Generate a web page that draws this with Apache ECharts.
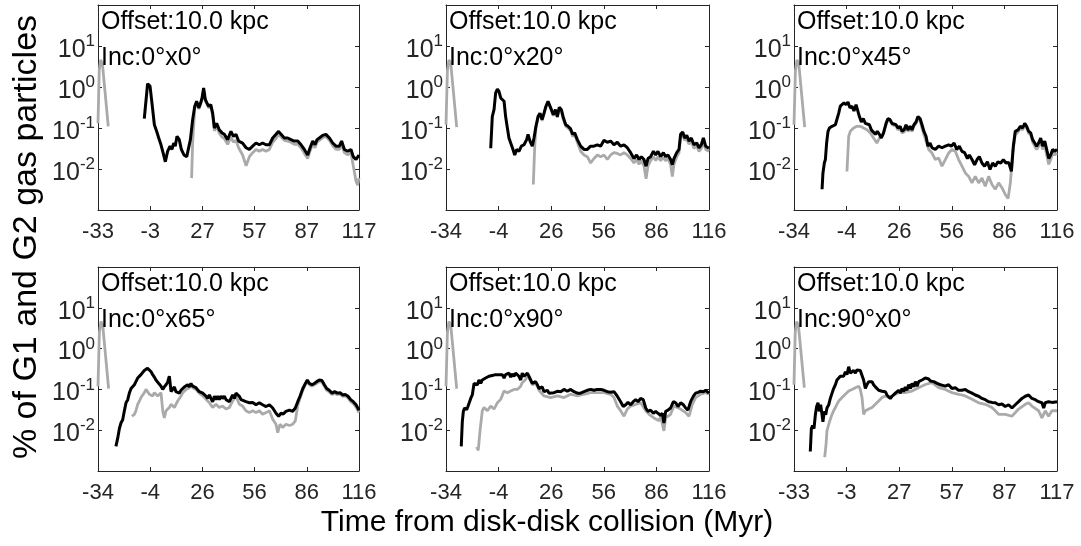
<!DOCTYPE html>
<html><head><meta charset="utf-8">
<script src="https://cdn.jsdelivr.net/npm/echarts@6/dist/echarts.min.js"></script>
<style>html,body{margin:0;padding:0;background:#fff}#c{width:1081px;height:546px}</style>
</head><body><div id="c"></div>
<script>
// ---------------- DATA ----------------
const offsetLabel = 'Offset:10.0 kpc';
const incLabels = ['Inc:0°x0°', 'Inc:0°x20°', 'Inc:0°x45°', 'Inc:0°x65°', 'Inc:0°x90°', 'Inc:90°x0°'];
const xMins = [-33, -34, -34, -34, -34, -33];
const xMaxs = [117, 116, 116, 116, 116, 117];
const xTicks = [
  [-33, -3, 27, 57, 87, 117],
  [-34, -4, 26, 56, 86, 116],
  [-34, -4, 26, 56, 86, 116],
  [-34, -4, 26, 56, 86, 116],
  [-34, -4, 26, 56, 86, 116],
  [-33, -3, 27, 57, 87, 117]
];
const yMin = 0.001, yMax = 100;
const yLabelExps = [-2, -1, 0, 1];
const xTitle = 'Time from disk-disk collision (Myr)';
const yTitle = '% of G1 and G2 gas particles';

// early gray spike (same in every panel, starts at left edge)
const spike33 = [[-33,0.13],[-32.3,2.5],[-31.5,4.6],[-30.5,3.8],[-27.1,0.11]];
const spike34 = [[-34,0.12],[-33.2,2.5],[-32.3,4.6],[-31.3,3.8],[-27.9,0.105]];

const p1Black = [[-6.4,0.17],[-4.5,1.2],[-3.1,1.05],[-2,0.41],[-0.6,0.12],[0.7,0.083],[1.9,0.057],[3.2,0.039],[4.5,0.024],[5.7,0.015],[7,0.027],[8.4,0.036],[9.5,0.03],[10.5,0.043],[11.4,0.036],[12.4,0.063],[13.7,0.052],[14.9,0.03],[16.4,0.022],[18,0.02],[19.1,0.018],[20.1,0.052],[21.4,0.16],[22.6,0.34],[23.7,0.45],[24.9,0.31],[26,0.41],[26.8,0.54],[27.7,0.95],[28.7,0.49],[29.6,0.41],[30.6,0.34],[31.8,0.37],[32.9,0.23],[33.9,0.1],[35.2,0.13],[36.7,0.09],[38.3,0.076],[39.6,0.07],[41.5,0.052],[43.4,0.083],[44.8,0.063],[46.3,0.07],[47.8,0.048],[50.1,0.043],[52.1,0.033],[54,0.03],[55.9,0.036],[57.8,0.043],[59.7,0.039],[61.6,0.043],[63.5,0.039],[65.5,0.039],[67.4,0.057],[69.3,0.07],[70.8,0.083],[72.2,0.07],[74.1,0.057],[76,0.057],[77.9,0.052],[79.8,0.048],[81.8,0.048],[83.7,0.039],[85.6,0.03],[87.5,0.022],[88.9,0.033],[90.4,0.048],[91.7,0.039],[92.9,0.052],[94.2,0.057],[96.1,0.066],[98,0.07],[100,0.057],[101.9,0.043],[103.8,0.036],[105.7,0.036],[107,0.048],[108.6,0.03],[110.5,0.027],[112.4,0.03],[113.7,0.02],[115.3,0.017],[117,0.022]];
const p1Gray = [[20.8,0.006],[21.4,0.045],[22.6,0.3],[23.7,0.42],[24.9,0.29],[26,0.38],[26.8,0.5],[27.7,0.85],[28.7,0.45],[29.6,0.38],[30.6,0.31],[31.8,0.33],[32.9,0.2],[33.9,0.085],[35.2,0.11],[36.7,0.075],[38.3,0.06],[39.6,0.055],[41.5,0.04],[43.4,0.06],[44.8,0.045],[46.3,0.05],[47.8,0.033],[50.1,0.022],[52.1,0.012],[54,0.02],[55.9,0.025],[57.8,0.03],[59.7,0.027],[61.6,0.03],[63.5,0.027],[65.5,0.03],[67.4,0.045],[69.3,0.055],[70.8,0.07],[72.2,0.06],[74.1,0.05],[76,0.048],[77.9,0.045],[79.8,0.04],[81.8,0.04],[83.7,0.033],[85.6,0.024],[87.5,0.018],[88.9,0.028],[90.4,0.04],[91.7,0.033],[92.9,0.045],[94.2,0.05],[96.1,0.058],[98,0.062],[100,0.05],[101.9,0.037],[103.8,0.03],[105.7,0.03],[107,0.04],[108.6,0.025],[110.5,0.022],[112.4,0.025],[113.7,0.012],[115.3,0.005],[116.2,0.004],[117,0.006]];

const p2Black = [[-8.5,0.032],[-7.6,0.19],[-6.6,0.28],[-5.7,0.71],[-4.7,0.89],[-3.8,0.78],[-2.8,0.54],[-1.9,0.49],[-0.9,0.45],[0,0.19],[1,0.1],[1.9,0.057],[2.9,0.043],[4.2,0.03],[5.2,0.022],[6.3,0.03],[7.6,0.027],[9,0.036],[10.5,0.039],[12,0.052],[12.8,0.07],[13.9,0.048],[15.2,0.036],[16.2,0.057],[17.3,0.11],[18.5,0.19],[19.6,0.23],[20.8,0.16],[21.9,0.23],[23,0.34],[24.2,0.45],[25.1,0.49],[26.1,0.28],[27.2,0.21],[28.4,0.28],[29.5,0.19],[30.6,0.32],[31.8,0.28],[32.9,0.18],[34.3,0.12],[35.6,0.11],[37.1,0.095],[38.2,0.07],[39.4,0.076],[40.9,0.052],[42.8,0.036],[44.7,0.03],[46.6,0.03],[48.5,0.036],[50.4,0.036],[52.3,0.039],[54.2,0.036],[56.1,0.05],[58,0.045],[59.9,0.048],[61.8,0.039],[63.7,0.045],[65.6,0.036],[67.5,0.039],[69.4,0.033],[71.3,0.025],[73.2,0.018],[74.7,0.022],[76.1,0.017],[77.4,0.02],[78.9,0.017],[80.1,0.0117],[81.2,0.018],[82.7,0.02],[84.3,0.027],[85.6,0.022],[86.9,0.027],[88.4,0.02],[90,0.025],[91.3,0.02],[92.6,0.022],[94.1,0.017],[95.1,0.0127],[96,0.018],[97.6,0.025],[98.9,0.03],[99.8,0.07],[101,0.08],[102.1,0.057],[103.3,0.066],[104.6,0.048],[105.9,0.057],[107.4,0.039],[109,0.043],[110.3,0.033],[111.6,0.039],[112.8,0.057],[114.1,0.036],[116,0.032]];
const p2Gray = [[15.8,0.0042],[16.6,0.036],[17.3,0.1],[18.5,0.18],[19.6,0.22],[20.8,0.15],[21.9,0.22],[23,0.32],[24.2,0.43],[25.1,0.47],[26.1,0.27],[27.2,0.2],[28.4,0.27],[29.5,0.18],[30.6,0.3],[31.8,0.26],[32.9,0.16],[34.3,0.11],[35.6,0.1],[37.1,0.085],[38.2,0.062],[39.4,0.068],[40.9,0.045],[42.8,0.027],[44.7,0.022],[46.6,0.02],[48.5,0.014],[50.4,0.018],[52.3,0.022],[54.2,0.02],[56.1,0.022],[58,0.017],[59.9,0.022],[61.8,0.025],[63.7,0.024],[65.6,0.022],[67.5,0.025],[69.4,0.022],[71.3,0.018],[73.2,0.014],[74.7,0.017],[76.1,0.013],[77.4,0.016],[78.9,0.012],[80.1,0.0058],[81.2,0.012],[82.7,0.016],[84.3,0.02],[85.6,0.016],[86.9,0.02],[88.4,0.016],[90,0.019],[91.3,0.016],[92.6,0.018],[94.1,0.013],[95.1,0.0065],[96,0.013],[97.6,0.02],[98.9,0.025],[99.8,0.06],[101,0.07],[102.1,0.05],[103.3,0.055],[104.6,0.04],[105.9,0.048],[107.4,0.032],[109,0.036],[110.3,0.027],[111.6,0.032],[112.8,0.045],[114.1,0.03],[116,0.027]];

const p3Black = [[-18,0.0032],[-17.5,0.0079],[-16.7,0.014],[-16.1,0.017],[-15.4,0.043],[-14.6,0.083],[-13.8,0.1],[-13.1,0.09],[-12.3,0.11],[-11.4,0.1],[-10.4,0.12],[-9.5,0.13],[-8.5,0.23],[-7.6,0.34],[-6.6,0.31],[-5.5,0.41],[-4.3,0.37],[-3.2,0.43],[-2.1,0.31],[-0.9,0.34],[0.2,0.26],[1.4,0.37],[2.3,0.41],[3.3,0.19],[4.4,0.14],[5.5,0.17],[6.7,0.13],[7.8,0.13],[9,0.12],[10.1,0.09],[11.2,0.1],[12.4,0.07],[13.5,0.083],[14.7,0.07],[15.8,0.057],[17.1,0.076],[18.5,0.13],[19.6,0.17],[20.8,0.16],[21.9,0.13],[23,0.14],[24.2,0.12],[25.3,0.1],[26.5,0.11],[27.6,0.083],[28.8,0.09],[29.9,0.12],[31,0.09],[32.2,0.11],[33.3,0.09],[34.4,0.12],[35.6,0.14],[36.7,0.19],[37.9,0.17],[39,0.12],[40.1,0.083],[41.3,0.063],[42.4,0.036],[43.6,0.043],[44.7,0.033],[46.6,0.03],[48.5,0.036],[50.4,0.033],[52.3,0.036],[54.2,0.039],[55.7,0.036],[57.3,0.043],[58.8,0.03],[60.3,0.036],[61.8,0.027],[63.3,0.025],[64.9,0.018],[66,0.022],[67.5,0.017],[69,0.0127],[70.4,0.017],[71.7,0.02],[73.2,0.014],[74.7,0.0117],[76.3,0.015],[77.8,0.0097],[79.3,0.014],[80.8,0.0117],[82.3,0.015],[83.9,0.014],[85.4,0.017],[86.9,0.014],[88.4,0.0145],[90,0.0088],[91.1,0.036],[92.2,0.083],[93.8,0.09],[95.1,0.11],[96.4,0.1],[97.6,0.13],[98.7,0.11],[99.8,0.083],[101,0.076],[102.1,0.052],[103.3,0.043],[104.4,0.036],[105.5,0.043],[106.7,0.057],[107.8,0.036],[109,0.048],[110.1,0.03],[111.3,0.018],[112.4,0.022],[113.5,0.03],[114.7,0.027],[116,0.03]];
const p3Gray = [[-3.8,0.0087],[-2.8,0.063],[-1.9,0.083],[0,0.1],[1.9,0.11],[3.8,0.11],[5.7,0.1],[7.6,0.091],[9.5,0.076],[11.4,0.057],[13.3,0.043],[14.7,0.057],[16.2,0.063],[18.5,0.12],[19.6,0.16],[20.8,0.15],[21.9,0.12],[23,0.13],[24.2,0.11],[25.3,0.09],[26.5,0.1],[27.6,0.075],[28.8,0.08],[29.9,0.11],[31,0.082],[32.2,0.1],[33.3,0.082],[34.4,0.11],[35.6,0.13],[36.7,0.17],[37.9,0.15],[39,0.1],[40.1,0.07],[42.8,0.03],[44.7,0.0245],[46.6,0.017],[48.5,0.0185],[50.4,0.0117],[52.3,0.017],[54.2,0.0245],[56.1,0.03],[58,0.027],[59.9,0.017],[61.8,0.0117],[63.7,0.008],[65.6,0.0066],[67.5,0.0046],[69.4,0.0066],[71.3,0.0046],[73.2,0.006],[75.1,0.0038],[77,0.0066],[78.9,0.0042],[80.8,0.0032],[82.7,0.0046],[84.6,0.0035],[86.5,0.0024],[88.1,0.0019],[89.4,0.0046],[90.7,0.0245],[92.2,0.069],[93.8,0.08],[95.1,0.1],[96.4,0.09],[97.6,0.12],[98.7,0.1],[99.8,0.075],[101,0.068],[102.1,0.045],[103.3,0.036],[104.4,0.03],[105.5,0.036],[106.7,0.05],[107.8,0.03],[109,0.04],[110.1,0.022],[111.3,0.013],[112.4,0.017],[113.5,0.025],[114.7,0.022],[116,0.0245]];

const p4Black = [[-23.7,0.004],[-22.7,0.0063],[-21.7,0.011],[-20.8,0.015],[-19.8,0.018],[-18.9,0.029],[-17.9,0.047],[-16.9,0.056],[-16,0.081],[-15,0.105],[-14.1,0.115],[-13.1,0.13],[-12.2,0.155],[-11.2,0.19],[-10.2,0.21],[-9.3,0.23],[-8.3,0.25],[-7.4,0.29],[-6.4,0.32],[-5.5,0.33],[-4.5,0.3],[-3.5,0.27],[-2.6,0.23],[-1.6,0.2],[-0.7,0.17],[0.3,0.155],[1.2,0.135],[2.2,0.12],[3.2,0.1],[4.1,0.115],[5.1,0.13],[6,0.15],[7,0.21],[8,0.088],[8.9,0.088],[9.9,0.115],[10.8,0.088],[11.8,0.095],[12.7,0.081],[13.7,0.095],[14.7,0.105],[15.6,0.115],[16.6,0.11],[17.5,0.13],[18.5,0.115],[19.4,0.14],[20.4,0.12],[21.4,0.13],[22.3,0.11],[23.3,0.1],[24.2,0.088],[25.2,0.095],[26.2,0.081],[27.1,0.088],[28.1,0.068],[29,0.06],[30,0.073],[30.9,0.06],[31.9,0.05],[32.9,0.068],[33.8,0.056],[34.8,0.068],[35.7,0.056],[36.7,0.068],[37.6,0.06],[38.6,0.068],[39.6,0.056],[40.5,0.06],[41.5,0.05],[42.4,0.06],[43.4,0.073],[44.4,0.06],[45.3,0.081],[46.3,0.088],[47.2,0.068],[48.2,0.056],[49.1,0.06],[51,0.05],[53,0.047],[54.9,0.048],[56.8,0.042],[58.7,0.047],[60.6,0.042],[62.6,0.038],[64.5,0.042],[66.4,0.035],[68.3,0.026],[69.8,0.022],[71.2,0.026],[72.5,0.025],[74,0.029],[76,0.031],[77.9,0.029],[79.4,0.035],[80.8,0.05],[82.1,0.068],[83.7,0.105],[85.2,0.14],[86.3,0.17],[87.5,0.14],[89,0.13],[90.3,0.14],[91.7,0.155],[93.2,0.17],[94.7,0.165],[96.1,0.13],[97.4,0.105],[98.9,0.095],[100.5,0.081],[102,0.088],[103.5,0.081],[105.1,0.083],[106.6,0.073],[108.1,0.075],[109.7,0.068],[111.2,0.056],[112.7,0.05],[114.3,0.042],[116,0.031]];
const p4Gray = [[-14.5,0.022],[-13.1,0.0245],[-12.2,0.03],[-11.2,0.043],[-10.2,0.052],[-9.3,0.063],[-8.3,0.069],[-7.4,0.083],[-6.4,0.1],[-5.5,0.091],[-4.5,0.076],[-3.5,0.083],[-2.6,0.069],[-1.6,0.083],[-0.7,0.091],[0.3,0.069],[1.2,0.063],[2.2,0.083],[3.2,0.03],[4.1,0.02],[5.1,0.03],[6,0.027],[7,0.036],[8,0.043],[8.9,0.039],[9.9,0.036],[10.8,0.039],[11.8,0.052],[12.7,0.052],[13.7,0.069],[14.7,0.083],[15.6,0.091],[16.6,0.1],[17.5,0.11],[18.5,0.11],[19.4,0.13],[20.4,0.11],[21.4,0.12],[22.3,0.1],[23.3,0.09],[24.2,0.08],[25.2,0.085],[26.2,0.07],[28.1,0.057],[30,0.047],[31.9,0.036],[33.8,0.043],[35.7,0.036],[37.6,0.039],[39.6,0.033],[41.5,0.036],[43.4,0.052],[45.3,0.069],[47.2,0.043],[49.1,0.039],[51,0.03],[53,0.027],[54.9,0.03],[56.8,0.027],[58.7,0.03],[60.6,0.0245],[62.6,0.027],[64.5,0.03],[66.4,0.0185],[68.3,0.014],[69.3,0.0087],[70.6,0.014],[72.1,0.0117],[74,0.014],[76,0.013],[77.9,0.014],[79.4,0.017],[80.8,0.04],[82.1,0.06],[83.7,0.095],[85.2,0.13],[86.3,0.155],[87.5,0.13],[89,0.12],[90.3,0.13],[91.7,0.14],[93.2,0.155],[94.7,0.15],[96.1,0.12],[97.4,0.095],[98.9,0.087],[100.5,0.075],[102,0.08],[103.5,0.075],[105.1,0.077],[106.6,0.067],[108.1,0.069],[109.7,0.062],[111.2,0.05],[112.7,0.045],[114.3,0.037],[116,0.027]];

const p5Black = [[-25.3,0.004],[-24.7,0.016],[-24.1,0.029],[-23.4,0.035],[-22.2,0.032],[-21.5,0.038],[-20.7,0.042],[-19.9,0.06],[-19,0.073],[-18,0.14],[-17.1,0.155],[-16.1,0.13],[-15.2,0.17],[-14.2,0.14],[-13.3,0.17],[-12.3,0.155],[-11.4,0.19],[-10.4,0.17],[-9.5,0.21],[-8.5,0.19],[-7.6,0.22],[-6.6,0.24],[-5.7,0.23],[-4.7,0.25],[-3.8,0.23],[-2.8,0.21],[-1.9,0.23],[-0.9,0.19],[0,0.23],[1,0.21],[1.9,0.25],[2.9,0.2],[3.8,0.24],[4.8,0.21],[5.7,0.25],[6.7,0.27],[7.6,0.21],[8.6,0.17],[9.5,0.25],[10.5,0.21],[11.4,0.23],[12.4,0.25],[13.3,0.21],[14.3,0.17],[15.2,0.14],[16.2,0.13],[17.1,0.155],[18.1,0.13],[19,0.105],[20,0.095],[20.9,0.115],[21.9,0.088],[22.8,0.081],[23.8,0.095],[24.7,0.081],[25.7,0.09],[27.6,0.083],[29.5,0.09],[31.4,0.088],[33.3,0.1],[35.2,0.09],[37.1,0.1],[39,0.088],[40.9,0.081],[42.8,0.081],[44.7,0.088],[46.6,0.095],[48.5,0.1],[50.4,0.095],[52.3,0.1],[54.2,0.1],[56.1,0.095],[58,0.088],[59.9,0.085],[61.8,0.088],[63.7,0.068],[65.6,0.05],[67.1,0.038],[68.5,0.042],[69.8,0.048],[71.3,0.042],[72.8,0.05],[74.2,0.056],[75.5,0.05],[77,0.06],[78.5,0.056],[79.9,0.035],[81.2,0.029],[82.7,0.031],[84.3,0.026],[85.6,0.029],[86.9,0.026],[88.4,0.023],[89.4,0.026],[90.3,0.015],[91.3,0.029],[92.6,0.031],[94.1,0.035],[95.7,0.05],[97,0.047],[98.3,0.038],[99.8,0.047],[101.4,0.042],[102.7,0.035],[104,0.031],[105.5,0.05],[107.1,0.068],[108.4,0.081],[109.7,0.085],[111.2,0.09],[112.8,0.088],[114.1,0.095],[116,0.081]];
const p5Gray = [[-16.5,0.0039],[-15.6,0.0032],[-14.6,0.0096],[-13.3,0.03],[-12.3,0.036],[-10.4,0.03],[-8.5,0.039],[-7.6,0.043],[-6.6,0.033],[-5.7,0.039],[-4.7,0.047],[-2.8,0.057],[-1.9,0.063],[-0.9,0.091],[1,0.083],[2.9,0.091],[4.8,0.1],[6.7,0.1],[8.6,0.12],[9.5,0.146],[10.5,0.16],[11.4,0.175],[12.4,0.22],[13.3,0.2],[14.3,0.16],[15.2,0.13],[16.2,0.12],[17.1,0.14],[18.1,0.12],[19,0.095],[20,0.085],[21.9,0.069],[25.7,0.063],[29.5,0.069],[33.3,0.063],[37.1,0.076],[40.9,0.069],[44.7,0.076],[48.5,0.083],[52.3,0.083],[56.1,0.083],[59.9,0.076],[61.8,0.063],[63.7,0.039],[65.6,0.03],[67.5,0.022],[69.4,0.033],[71.3,0.039],[74.2,0.043],[77,0.047],[79.9,0.03],[81.8,0.0245],[84.6,0.02],[87.5,0.017],[88.4,0.022],[90.3,0.0096],[91.3,0.02],[94.1,0.0245],[96,0.039],[99.8,0.033],[102.7,0.027],[104.6,0.022],[106.5,0.043],[108.4,0.063],[111.2,0.076],[114.1,0.083],[116,0.076]];

const p6Black = [[-23.7,0.003],[-23.1,0.011],[-22.4,0.013],[-21.6,0.011],[-20.8,0.024],[-20.1,0.038],[-19.3,0.047],[-18.6,0.029],[-17.8,0.042],[-17,0.024],[-16.5,0.016],[-15.7,0.029],[-14.9,0.024],[-14.2,0.035],[-13.2,0.042],[-12.3,0.06],[-11.3,0.081],[-10.4,0.105],[-9.4,0.13],[-8.5,0.17],[-7.5,0.17],[-6.6,0.21],[-5.6,0.23],[-4.7,0.21],[-3.7,0.27],[-2.8,0.23],[-1.8,0.36],[-0.9,0.25],[0.1,0.27],[1,0.29],[2,0.25],[2.9,0.3],[3.9,0.3],[4.8,0.29],[5.8,0.27],[6.7,0.17],[7.7,0.105],[8.6,0.13],[9.6,0.155],[10.5,0.17],[11.5,0.155],[12.4,0.13],[13.4,0.115],[14.3,0.12],[15.3,0.095],[16.2,0.105],[17.2,0.09],[18.1,0.081],[19.1,0.088],[20,0.073],[21,0.081],[21.9,0.06],[22.9,0.068],[23.8,0.073],[24.8,0.081],[25.7,0.085],[26.7,0.095],[27.6,0.081],[28.6,0.105],[29.5,0.088],[30.5,0.115],[31.4,0.095],[32.4,0.13],[33.4,0.105],[34.3,0.14],[35.3,0.115],[36.2,0.155],[37.2,0.12],[38.1,0.155],[39.1,0.14],[40,0.17],[41,0.155],[41.9,0.19],[42.9,0.17],[43.8,0.18],[44.8,0.16],[45.7,0.17],[46.7,0.155],[47.6,0.16],[48.6,0.14],[49.5,0.15],[50.5,0.13],[51.4,0.135],[53.3,0.12],[55.2,0.13],[57.1,0.105],[59,0.11],[60.9,0.095],[62.8,0.095],[64.7,0.1],[66.6,0.088],[68.5,0.081],[70.4,0.073],[72.3,0.068],[74.2,0.06],[76.1,0.056],[78,0.05],[79.9,0.048],[81.8,0.047],[83.7,0.042],[85.6,0.044],[87.5,0.038],[89.4,0.042],[91.3,0.035],[93.2,0.042],[95.1,0.05],[97,0.06],[98.9,0.068],[100.8,0.073],[101.8,0.068],[102.7,0.06],[104.6,0.056],[106.5,0.05],[108.4,0.047],[109.4,0.035],[110.3,0.047],[112.2,0.05],[114.1,0.048],[117,0.05]];
const p6Gray = [[-15.5,0.0022],[-14.7,0.0046],[-14.2,0.0096],[-13.2,0.014],[-12.3,0.0185],[-11.3,0.0245],[-10.4,0.03],[-9.4,0.036],[-8.5,0.043],[-7.5,0.052],[-5.6,0.063],[-3.7,0.076],[-1.8,0.091],[0.1,0.1],[2,0.11],[3.9,0.12],[4.8,0.1],[5.8,0.063],[6.7,0.0245],[7.7,0.03],[9.6,0.033],[11.5,0.036],[13.4,0.043],[15.3,0.052],[17.2,0.063],[19.1,0.069],[21,0.063],[22.9,0.069],[26.7,0.083],[30.5,0.083],[34.3,0.091],[38.1,0.11],[41.9,0.132],[45.7,0.146],[49.5,0.11],[53.3,0.1],[57.1,0.083],[60.9,0.076],[64.7,0.069],[68.5,0.057],[72.3,0.047],[76.1,0.043],[79.9,0.036],[81.8,0.03],[83.7,0.0245],[87.5,0.0245],[91.3,0.022],[95.1,0.033],[98.9,0.043],[100.8,0.047],[102.7,0.039],[106.5,0.03],[108.4,0.02],[110.3,0.03],[112.2,0.022],[114.1,0.03],[117,0.03]];

const blackSeries = [p1Black, p2Black, p3Black, p4Black, p5Black, p6Black];
const graySeries = [p1Gray, p2Gray, p3Gray, p4Gray, p5Gray, p6Gray];
const spikeSeries = [spike33, spike34, spike34, spike34, spike34, spike33];

// ---------------- LAYOUT ----------------
const FONT = '"Liberation Sans", Arial, Helvetica, sans-serif';
const AX = '#262626';
const colLeft = [98, 446, 794], colWidth = [261, 263, 263];
const rowTop = [5, 267], rowHeight = [205, 204];

const grids = [], xAxes = [], yAxes = [], series = [], graphics = [];
for (let i = 0; i < 6; i++) {
  const r = Math.floor(i / 3), c = i % 3;
  grids.push({left: colLeft[c], top: rowTop[r], width: colWidth[c], height: rowHeight[r], containLabel: false});
  const line = {show: true, onZero: false, lineStyle: {color: AX, width: 1}};
  const tick = {show: true, inside: true, length: 4, lineStyle: {color: AX}, customValues: xTicks[i]};
  xAxes.push({type: 'value', gridIndex: i, position: 'bottom', min: xMins[i], max: xMaxs[i],
    axisLine: line, axisTick: tick, splitLine: {show: false},
    axisLabel: {customValues: xTicks[i], color: AX, fontSize: 22, fontFamily: FONT, margin: 11}});
  xAxes.push({type: 'value', gridIndex: i, position: 'top', min: xMins[i], max: xMaxs[i],
    axisLine: line, axisTick: tick, splitLine: {show: false}, axisLabel: {show: false}});
  const ytick = {show: true, inside: true, length: 4, lineStyle: {color: AX}};
  yAxes.push({type: 'log', logBase: 10, gridIndex: i, position: 'left', min: yMin, max: yMax,
    axisLine: line, axisTick: ytick, splitLine: {show: false},
    axisLabel: {margin: 3, color: AX, fontFamily: FONT,
      formatter: v => { const e = Math.round(Math.log10(v)); return yLabelExps.includes(e) ? '{b|10}{s|' + e + '}' : ''; },
      rich: {b: {fontSize: 25, fontFamily: FONT, color: AX, lineHeight: 26, padding: [8, 0, 0, 0]},
             s: {fontSize: 17, fontFamily: FONT, color: AX, lineHeight: 17, verticalAlign: 'top'}}}});
  yAxes.push({type: 'log', logBase: 10, gridIndex: i, position: 'right', min: yMin, max: yMax,
    axisLine: line, axisTick: ytick, splitLine: {show: false}, axisLabel: {show: false}});
  series.push({type: 'line', xAxisIndex: 2 * i, yAxisIndex: 2 * i, data: spikeSeries[i], symbol: 'none',
    lineStyle: {color: '#aaaaaa', width: 2.8}, z: 2, silent: true});
  series.push({type: 'line', xAxisIndex: 2 * i, yAxisIndex: 2 * i, data: graySeries[i], symbol: 'none',
    lineStyle: {color: '#aaaaaa', width: 2.8}, z: 2, silent: true});
  series.push({type: 'line', xAxisIndex: 2 * i, yAxisIndex: 2 * i, data: blackSeries[i], symbol: 'none',
    lineStyle: {color: '#000000', width: 3}, z: 3, silent: true});
  graphics.push({type: 'text', left: colLeft[c] + 3, top: rowTop[r] + 5, z: 10,
    style: {text: offsetLabel, font: '25px ' + FONT, fill: '#000'}});
  graphics.push({type: 'text', left: colLeft[c] + 3, top: rowTop[r] + 41, z: 10,
    style: {text: incLabels[i], font: '25px ' + FONT, fill: '#000'}});
}
graphics.push({type: 'text', x: 547, y: 523, style: {text: xTitle, font: '30px ' + FONT, fill: '#000', align: 'center', verticalAlign: 'middle'}});
graphics.push({type: 'text', x: 27, y: 237, rotation: Math.PI / 2, style: {text: yTitle, font: '34px ' + FONT, fill: '#000', align: 'center', verticalAlign: 'middle'}});

const chart = echarts.init(document.getElementById('c'), null, {renderer: 'canvas'});
chart.setOption({backgroundColor: '#fff', animation: false, grid: grids, xAxis: xAxes, yAxis: yAxes, series: series, graphic: graphics});
</script></body></html>
